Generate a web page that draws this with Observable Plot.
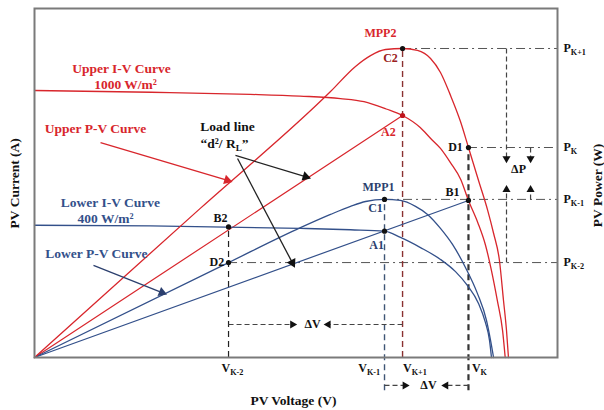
<!DOCTYPE html>
<html><head><meta charset="utf-8">
<script src="https://cdn.jsdelivr.net/npm/d3@7"></script>
<script src="https://cdn.jsdelivr.net/npm/@observablehq/plot@0.6"></script>
<style>body{margin:0;background:#fff} svg{display:block}</style>
</head><body><div id="chart"></div>
<script>
// ---------- data (V in volts, I/P in arbitrary units) ----------
const upperIV_V = [0, 8.9, 16.5, 20.3, 23.4, 25.2, 26.9, 28.15, 29.5, 30.3, 31.05, 31.8, 32.6, 33.19, 33.9, 34.5, 34.95, 35.4, 35.8, 36.0];
const upperIV_I = [76.5, 76.0, 75.4, 74.9, 74.2, 73.3, 71.2, 69.34, 65.9, 62.75, 59.9, 55.9, 51.0, 45.0, 38.7, 32.1, 24.9, 16.3, 7.7, 0];
const upperPV_V = [0, 12.7, 22.64, 24.55, 25.7, 26.85, 28.15, 29.29, 30.29, 31.05, 31.82, 32.58, 33.19, 33.96, 34.65, 35.11, 35.56, 35.87, 36.1, 36.25];
const upperPV_P = [0, 42.8, 76.2, 83.4, 86.5, 88.25, 88.54, 87.97, 85.67, 81.66, 75.07, 67.62, 60.17, 50.72, 42.3, 35.6, 27.79, 16.33, 7.74, 0];
const lowerIV_V = [0, 8.87, 20.34, 24.17, 26.77, 27.99, 29.52, 31.05, 32.2, 33.12, 33.96, 34.49, 34.8, 34.95];
const lowerIV_I = [37.9, 37.7, 37.0, 36.6, 36.2, 34.4, 31.5, 28.1, 24.6, 20.6, 15.5, 10.0, 4.9, 0];
const lowerPV_V = [0, 14.84, 20.34, 22.64, 24.17, 25.32, 26.77, 27.99, 29.14, 30.06, 31.05, 31.97, 32.96, 33.88, 34.57, 34.88, 35.11];
const lowerPV_P = [0, 27.2, 37.2, 41.0, 43.3, 44.7, 45.3, 45.0, 43.3, 41.0, 37.0, 32.4, 25.8, 18.3, 10.6, 4.9, 0];

const redLoadLine = [[0, 0], [28.15, 69.34]];
const blueLoadLine = [[0, 0], [33.19, 45.0]];

// voltage steps and power levels
const V = {Km2: 14.84, Km1: 26.77, Kp1: 28.15, K: 33.19};
const P = {Kp1: 88.54, K: 60.17, Km1: 45.3, Km2: 27.2};
const xMax = 40, yMax = 100;

// operating points
const blackPoints = [[V.Kp1, P.Kp1], [V.K, P.K], [V.K, 45.0], [V.Km1, P.Km1], [V.Km1, 36.2], [V.Km2, 37.4], [V.Km2, P.Km2]];
const redPoints = [[V.Kp1, 69.34]];

// labels
const redLabels = [["Upper I-V Curve", 6.65, 82.8], ["1000 W/m²", 6.96, 78.2], ["Upper P-V Curve", 4.67, 65.6]];
const redPointLabels = [["MPP2", 26.46, 92.8], ["A2", 27.07, 64.5]];
const darkRedPointLabels = [["C2", 27.23, 85.7]];
const blueLabels = [["Lower I-V Curve", 5.81, 44.4], ["400 W/m²", 5.43, 39.9], ["Lower P-V Curve", 4.74, 29.8]];
const bluePointLabels = [["MPP1", 26.31, 48.7], ["C1", 26.08, 42.7], ["A1", 26.16, 32.1]];
const blackLabels = [["Load line", 14.76, 66.2], ["“d²/ R_{L}”", 14.53, 61.3]];
const blackPointLabels = [["D1", 32.2, 60.4], ["B1", 31.97, 47.3], ["B2", 14.23, 39.8], ["D2", 13.95, 27.2], ["ΔP", 37.02, 53.9], ["ΔV", 21.26, 9.46], ["ΔV", 30.13, -8.0]];
const vTickLabels = [["V_{K-2}", 15.14], ["V_{K-1}", 25.6], ["V_{K+1}", 29.1], ["V_{K}", 34.03]];
const pTickLabels = [["P_{K+1}", P.Kp1], ["P_{K}", P.K], ["P_{K-1}", P.Km1], ["P_{K-2}", P.Km2]];

// pointer arrows [x1,y1,x2,y2]
const redPointers = [[5.05, 61.6, 14.9, 50.6]];
const bluePointers = [[4.51, 26.4, 9.9, 18.4]];
const blackPointers = [[15.37, 57.9, 20.9, 51.6], [15.53, 57.0, 19.8, 26.6]];
const deltaArrows = [
  [V.Km2, 9.46, 19.9, 9.46], [V.Kp1, 9.46, 22.3, 9.46],
  [V.Km1, -8.0, 28.5, -8.0], [V.K, -8.0, 31.3, -8.0],
  [36.1, P.Kp1, 36.1, 56.4], [37.94, P.K, 37.94, 56.4],
  [36.1, P.Km2, 36.1, 48.7], [37.94, P.Km1, 37.94, 48.7]
];

// ---------- layout ----------
const W = 604, H = 410;
const M = {top: 8, right: 47, bottom: 53, left: 34};
const RED = "#d8262c", DRED = "#9a2020", BLUE = "#33508a", DBLUE = "#2b3f6e", BLACK = "#111";
const xs = Plot.scale({x: {domain: [0, xMax], range: [M.left, W - M.right]}});
const ys = Plot.scale({y: {domain: [0, yMax], range: [H - M.bottom, M.top]}});

const rows = (a, b) => a.map((x, i) => ({x, y: b[i]}));
const pts = a => a.map(([x, y]) => ({x, y}));
const labs = a => a.map(([t, x, y]) => ({t, x, y}));
const segs = a => a.map(([x1, y1, x2, y2]) => ({x1, y1, x2, y2}));
function heads(a) {
  return a.map(([x1, y1, x2, y2]) => {
    const dx = xs.apply(x2) - xs.apply(x1), dy = ys.apply(y2) - ys.apply(y1);
    const len = Math.hypot(dx, dy) || 1;
    const cx = xs.apply(x2) - dx / len * 2.2, cy = ys.apply(y2) - dy / len * 2.2;
    return {x: xs.invert(cx), y: ys.invert(cy), a: Math.atan2(dx, -dy) * 180 / Math.PI};
  });
}
const font = "Liberation Serif, Times New Roman, serif";

const textMark = (data, fill, size, opts = {}) => Plot.text(labs(data), {x: "x", y: "y", text: "t", fill, fontSize: size, fontWeight: "bold", fontFamily: font, ...opts});

const plot = Plot.plot({
  width: W, height: H,
  marginTop: M.top, marginRight: M.right, marginBottom: M.bottom, marginLeft: M.left,
  x: {domain: [0, xMax], axis: null},
  y: {domain: [0, yMax], axis: null},
  style: {background: "#fff", fontFamily: font},
  marks: [
    // horizontal dash-dot power levels
    Plot.ruleY([{y: P.Kp1, x1: V.Kp1}, {y: P.K, x1: V.K}, {y: P.Km1, x1: V.Km1}, {y: P.Km2, x1: V.Km2}],
      {y: "y", x1: "x1", x2: () => xMax, stroke: "#555", strokeWidth: 1, strokeDasharray: "9 4 2 4"}),
    // vertical dashed guides
    Plot.ruleX([{x: V.Km2, y1: 0, y2: 37.4}], {x: "x", y1: "y1", y2: "y2", stroke: "#222", strokeWidth: 1.2, strokeDasharray: "6 4"}),
    Plot.ruleX([{x: V.Km1, y1: -9.5, y2: P.Km1}], {x: "x", y1: "y1", y2: "y2", stroke: "#3f5575", strokeWidth: 1.4, strokeDasharray: "6 4"}),
    Plot.ruleX([{x: V.Kp1, y1: 0, y2: P.Kp1}], {x: "x", y1: "y1", y2: "y2", stroke: "#8a3030", strokeWidth: 1.4, strokeDasharray: "6 4"}),
    Plot.ruleX([{x: V.K, y1: -9.5, y2: P.K}], {x: "x", y1: "y1", y2: "y2", stroke: "#333", strokeWidth: 2.2, strokeDasharray: "6 4"}),
    // delta arrows (dashed shafts)
    Plot.link(segs(deltaArrows), {x1: "x1", y1: "y1", x2: "x2", y2: "y2", stroke: "#444", strokeWidth: 1.2, strokeDasharray: "5 3"}),
    Plot.dot(heads(deltaArrows), {x: "x", y: "y", symbol: "triangle", r: 3, fill: "#111", rotate: "a"}),
    // load lines
    Plot.line(pts(redLoadLine), {x: "x", y: "y", stroke: RED, strokeWidth: 1.2}),
    Plot.line(pts(blueLoadLine), {x: "x", y: "y", stroke: BLUE, strokeWidth: 1.2}),
    // curves
    Plot.line(rows(lowerIV_V, lowerIV_I), {x: "x", y: "y", stroke: BLUE, strokeWidth: 1.3, curve: "monotone-x"}),
    Plot.line(rows(lowerPV_V, lowerPV_P), {x: "x", y: "y", stroke: BLUE, strokeWidth: 1.3, curve: "monotone-x"}),
    Plot.line(rows(upperIV_V, upperIV_I), {x: "x", y: "y", stroke: RED, strokeWidth: 1.3, curve: "monotone-x"}),
    Plot.line(rows(upperPV_V, upperPV_P), {x: "x", y: "y", stroke: RED, strokeWidth: 1.3, curve: "monotone-x"}),
    // pointer arrows
    Plot.link(segs(redPointers), {x1: "x1", y1: "y1", x2: "x2", y2: "y2", stroke: RED, strokeWidth: 1.3}),
    Plot.dot(heads(redPointers), {x: "x", y: "y", symbol: "triangle", r: 3.6, fill: RED, rotate: "a"}),
    Plot.link(segs(bluePointers), {x1: "x1", y1: "y1", x2: "x2", y2: "y2", stroke: DBLUE, strokeWidth: 1.3}),
    Plot.dot(heads(bluePointers), {x: "x", y: "y", symbol: "triangle", r: 3.6, fill: DBLUE, rotate: "a"}),
    Plot.link(segs(blackPointers), {x1: "x1", y1: "y1", x2: "x2", y2: "y2", stroke: "#222", strokeWidth: 1.3}),
    Plot.dot(heads(blackPointers), {x: "x", y: "y", symbol: "triangle", r: 3.6, fill: "#111", rotate: "a"}),
    // points
    Plot.dot(pts(blackPoints), {x: "x", y: "y", r: 2.6, fill: "#111"}),
    Plot.dot(pts(redPoints), {x: "x", y: "y", r: 2.6, fill: "#c0141c"}),
    // frame
    Plot.frame({stroke: "#7a7a7a", strokeWidth: 2}),
    // labels
    textMark(redLabels, RED, 13.5),
    textMark(redPointLabels, RED, 12),
    textMark(darkRedPointLabels, DRED, 12),
    textMark(blueLabels, BLUE, 13.5),
    textMark(bluePointLabels, DBLUE, 12),
    textMark(blackLabels, BLACK, 13.5),
    textMark(blackPointLabels, BLACK, 12),
    Plot.text(vTickLabels.map(([t, x]) => ({t, x})), {x: "x", y: () => -3.0, text: "t", fill: BLACK, fontSize: 12, fontWeight: "bold", fontFamily: font}),
    Plot.text(pTickLabels.map(([t, y]) => ({t, y})), {x: () => 40.46, y: "y", text: "t", fill: BLACK, fontSize: 12, fontWeight: "bold", fontFamily: font, textAnchor: "start"}),
    Plot.text([{t: "PV Voltage (V)", x: 19.8, y: -12.3}], {x: "x", y: "y", text: "t", fill: BLACK, fontSize: 13.5, fontWeight: "bold", fontFamily: font}),
    Plot.text([{t: "PV Current (A)", x: -1.53, y: 49.9}], {x: "x", y: "y", text: "t", fill: BLACK, fontSize: 13.5, fontWeight: "bold", fontFamily: font, rotate: -90}),
    Plot.text([{t: "PV Power (W)", x: 43.1, y: 49.3}], {x: "x", y: "y", text: "t", fill: BLACK, fontSize: 13.5, fontWeight: "bold", fontFamily: font, rotate: -90})
  ]
});

// subscript markup -> tspans
d3.select(plot).selectAll("text").each(function () {
  const t = this.textContent;
  if (!/[_^]\{/.test(t)) return;
  const parts = t.split(/([_^]\{[^}]*\})/).filter(s => s);
  this.textContent = "";
  let shift = 0;
  for (const p of parts) {
    const m = p.match(/^([_^])\{([^}]*)\}$/);
    const ts = document.createElementNS("http://www.w3.org/2000/svg", "tspan");
    if (m) {
      const d = m[1] === "_" ? 3 : -5;
      ts.setAttribute("dy", d - shift); shift = d;
      ts.setAttribute("font-size", "0.68em");
      ts.textContent = m[2];
    } else {
      if (shift) { ts.setAttribute("dy", -shift); shift = 0; }
      ts.textContent = p;
    }
    this.appendChild(ts);
  }
});

document.getElementById("chart").appendChild(plot);
</script></body></html>
